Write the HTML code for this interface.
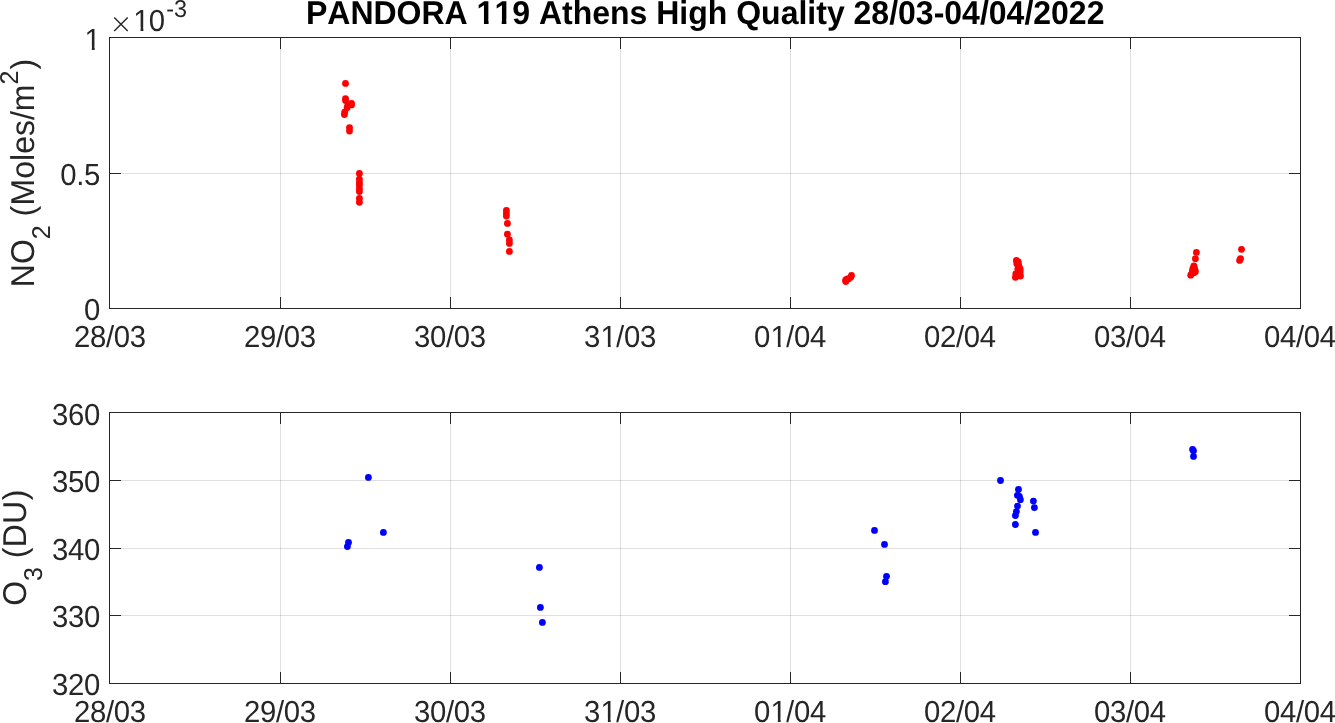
<!DOCTYPE html>
<html lang="en"><head><meta charset="utf-8"><title>PANDORA 119 Athens High Quality 28/03-04/04/2022</title>
<style>
html,body{margin:0;padding:0;background:#fff;}
body{width:1335px;height:723px;overflow:hidden;}
svg{display:block;}
text{font-kerning:none;text-rendering:geometricPrecision;font-family:"Liberation Sans",sans-serif;fill:#262626;white-space:pre;}
.tk{font-size:29.333px;letter-spacing:-0.31px;}
.ttl{font-size:32px;font-weight:bold;fill:#000;}
.lab{font-size:32px;}
.ss{font-size:25px;}
.ex{font-size:23.47px;}
.mul{font-family:"DejaVu Sans Light","DejaVu Sans","Liberation Sans",sans-serif;font-weight:200;font-size:28px;}
.ax{fill:#262626;shape-rendering:crispEdges;}
.gr{fill:#262626;fill-opacity:0.15;shape-rendering:crispEdges;}
</style></head><body>
<svg width="1335" height="723" viewBox="0 0 1335 723">
<rect x="0" y="0" width="1335" height="723" fill="#ffffff"/>
<defs><clipPath id="k0"><path clip-rule="evenodd" d="M-4 -35.2h79.85v46.93h-79.85zM17.34 -2.99h6.52v4.49h-6.52zM26.69 -2.99h5.59v4.49h-5.59z"/></clipPath><clipPath id="k1"><path clip-rule="evenodd" d="M-4 -35.2h79.85v46.93h-79.85zM17.34 -2.99h6.52v4.49h-6.52zM26.69 -2.99h5.59v4.49h-5.59z"/></clipPath><clipPath id="k2"><path clip-rule="evenodd" d="M-4 -35.2h24.6v46.93h-24.6zM1.33 -2.99h6.52v4.49h-6.52zM10.69 -2.99h5.59v4.49h-5.59z"/></clipPath><clipPath id="k3"><path clip-rule="evenodd" d="M-4 -38.4h806.53v51.2h-806.53zM171.19 -4.07h6.83v5.57h-6.83zM182.65 -4.07h5.73v5.57h-5.73zM188.98 -4.07h6.83v5.57h-6.83zM200.45 -4.07h5.73v5.57h-5.73z"/></clipPath><clipPath id="k4"><path clip-rule="evenodd" d="M-4 -35.2h40.01v46.93h-40.01zM1.33 -2.99h6.52v4.49h-6.52zM10.69 -2.99h5.59v4.49h-5.59z"/></clipPath></defs>
<path class="gr" d="M280 38h1v270h-1zM450 38h1v270h-1zM620 38h1v270h-1zM790 38h1v270h-1zM960 38h1v270h-1zM1130 38h1v270h-1z"/>
<path class="gr" d="M110 173h1190v1h-1190z"/>
<path class="ax" d="M280 37h1v12h-1zM280 297h1v12h-1zM450 37h1v12h-1zM450 297h1v12h-1zM620 37h1v12h-1zM620 297h1v12h-1zM790 37h1v12h-1zM790 297h1v12h-1zM960 37h1v12h-1zM960 297h1v12h-1zM1130 37h1v12h-1zM1130 297h1v12h-1zM109 173h12v1h-12zM1289 173h12v1h-12zM109 37h1192v1h-1192zM109 308h1192v1h-1192zM109 37h1v272h-1zM1300 37h1v272h-1z"/>
<text class="tk" transform="matrix(1 0 0 1.04 74 346.6)">28/03</text>
<text class="tk" transform="matrix(1 0 0 1.04 244 346.6)">29/03</text>
<text class="tk" transform="matrix(1 0 0 1.04 414 346.6)">30/03</text>
<text class="tk" transform="matrix(1 0 0 1.04 584 346.6)" dx="0 0.6 -0.6 0 0" clip-path="url(#k0)">31/03</text>
<text class="tk" transform="matrix(1 0 0 1.04 754 346.6)" dx="0 0.6 -0.6 0 0" clip-path="url(#k1)">01/04</text>
<text class="tk" transform="matrix(1 0 0 1.04 924 346.6)">02/04</text>
<text class="tk" transform="matrix(1 0 0 1.04 1094 346.6)">03/04</text>
<text class="tk" transform="matrix(1 0 0 1.04 1264 346.6)">04/04</text>
<text class="tk" transform="matrix(1 0 0 1.04 84 319.7)">0</text>
<text class="tk" transform="matrix(1 0 0 1.04 60.15 184.6)">0.5</text>
<text class="tk" transform="matrix(1 0 0 1.04 84 49.6)" dx="0.6" clip-path="url(#k2)">1</text>
<path class="gr" d="M280 413h1v270h-1zM450 413h1v270h-1zM620 413h1v270h-1zM790 413h1v270h-1zM960 413h1v270h-1zM1130 413h1v270h-1z"/>
<path class="gr" d="M110 615h1190v1h-1190zM110 548h1190v1h-1190zM110 480h1190v1h-1190z"/>
<path class="ax" d="M280 412h1v12h-1zM280 672h1v12h-1zM450 412h1v12h-1zM450 672h1v12h-1zM620 412h1v12h-1zM620 672h1v12h-1zM790 412h1v12h-1zM790 672h1v12h-1zM960 412h1v12h-1zM960 672h1v12h-1zM1130 412h1v12h-1zM1130 672h1v12h-1zM109 615h12v1h-12zM1289 615h12v1h-12zM109 548h12v1h-12zM1289 548h12v1h-12zM109 480h12v1h-12zM1289 480h12v1h-12zM109 412h1192v1h-1192zM109 683h1192v1h-1192zM109 412h1v272h-1zM1300 412h1v272h-1z"/>
<text class="tk" transform="matrix(1 0 0 1.04 74 721.6)">28/03</text>
<text class="tk" transform="matrix(1 0 0 1.04 244 721.6)">29/03</text>
<text class="tk" transform="matrix(1 0 0 1.04 414 721.6)">30/03</text>
<text class="tk" transform="matrix(1 0 0 1.04 584 721.6)" dx="0 0.6 -0.6 0 0" clip-path="url(#k0)">31/03</text>
<text class="tk" transform="matrix(1 0 0 1.04 754 721.6)" dx="0 0.6 -0.6 0 0" clip-path="url(#k1)">01/04</text>
<text class="tk" transform="matrix(1 0 0 1.04 924 721.6)">02/04</text>
<text class="tk" transform="matrix(1 0 0 1.04 1094 721.6)">03/04</text>
<text class="tk" transform="matrix(1 0 0 1.04 1264 721.6)">04/04</text>
<text class="tk" transform="matrix(1 0 0 1.04 51.99 694.6)">320</text>
<text class="tk" transform="matrix(1 0 0 1.04 51.99 626.8)">330</text>
<text class="tk" transform="matrix(1 0 0 1.04 51.99 559.6)">340</text>
<text class="tk" transform="matrix(1 0 0 1.04 51.99 491.8)">350</text>
<text class="tk" transform="matrix(1 0 0 1.04 51.99 424.7)">360</text>
<text class="ttl" transform="matrix(1 0 0 1.03 305.93 24)" clip-path="url(#k3)">PANDORA 119 Athens High Quality 28/03-04/04/2022</text>
<text class="mul" x="109.3" y="33.4">×</text>
<text class="tk" transform="matrix(1 0 0 1.04 132.7 30.7)" dx="0.6 -0.6" clip-path="url(#k4)">10</text>
<text class="ex" transform="matrix(1 0 0 1.04 166.2 17.3)">-3</text>
<text class="lab" transform="matrix(0 -1 1.03 0 34 287.2)">NO<tspan class="ss" dy="15.34">2</tspan><tspan dy="-15.34" dx="0.34 -0.5 0.5"> (Moles/m</tspan><tspan class="ss" dy="-15.53">2</tspan><tspan dy="15.53" dx="1">)</tspan></text>
<text class="lab" transform="matrix(0 -1 1.03 0 26 605.8)">O<tspan class="ss" dy="15.34">3</tspan><tspan dy="-15.34" dx="0.34 -0.5 0.5 0 0.7"> (DU)</tspan></text>
<g fill="#ff0000">
<circle cx="345.5" cy="83.4" r="3.4"/>
<circle cx="345.5" cy="98.6" r="3.4"/>
<circle cx="345.5" cy="100.5" r="3.4"/>
<circle cx="351.5" cy="103.4" r="3.4"/>
<circle cx="351.5" cy="104.9" r="3.4"/>
<circle cx="347.6" cy="105.8" r="3.4"/>
<circle cx="347.1" cy="107.8" r="3.4"/>
<circle cx="344.7" cy="112.1" r="3.4"/>
<circle cx="344.4" cy="114.6" r="3.4"/>
<circle cx="349.5" cy="127.6" r="3.4"/>
<circle cx="349.5" cy="131" r="3.4"/>
<circle cx="359.4" cy="173.4" r="3.4"/>
<circle cx="359.4" cy="179.1" r="3.4"/>
<circle cx="359.4" cy="182.4" r="3.4"/>
<circle cx="359.4" cy="184.9" r="3.4"/>
<circle cx="359.4" cy="188.7" r="3.4"/>
<circle cx="359.4" cy="191.6" r="3.4"/>
<circle cx="359.4" cy="198.4" r="3.4"/>
<circle cx="359.4" cy="202.3" r="3.4"/>
<circle cx="506.4" cy="210.5" r="3.4"/>
<circle cx="506.4" cy="213.4" r="3.4"/>
<circle cx="506.4" cy="216.1" r="3.4"/>
<circle cx="507.4" cy="223.4" r="3.4"/>
<circle cx="507.4" cy="234.2" r="3.4"/>
<circle cx="509.4" cy="240" r="3.4"/>
<circle cx="509.4" cy="243.4" r="3.4"/>
<circle cx="509.4" cy="251.4" r="3.4"/>
<circle cx="851.5" cy="275.4" r="3.4"/>
<circle cx="850.7" cy="277.3" r="3.4"/>
<circle cx="848.7" cy="278.7" r="3.4"/>
<circle cx="846.8" cy="279.2" r="3.4"/>
<circle cx="845.6" cy="280.2" r="3.4"/>
<circle cx="845.8" cy="281.5" r="3.4"/>
<circle cx="1016.4" cy="260.5" r="3.4"/>
<circle cx="1018.3" cy="261.8" r="3.4"/>
<circle cx="1016.8" cy="263.7" r="3.4"/>
<circle cx="1018.7" cy="265.2" r="3.4"/>
<circle cx="1019.2" cy="267.1" r="3.4"/>
<circle cx="1020.2" cy="269.1" r="3.4"/>
<circle cx="1017.8" cy="269.1" r="3.4"/>
<circle cx="1020.2" cy="272" r="3.4"/>
<circle cx="1015.8" cy="273.9" r="3.4"/>
<circle cx="1020.5" cy="276" r="3.4"/>
<circle cx="1015.4" cy="277.3" r="3.4"/>
<circle cx="1017.8" cy="275.8" r="3.4"/>
<circle cx="1196.4" cy="252.4" r="3.4"/>
<circle cx="1195.4" cy="258.7" r="3.4"/>
<circle cx="1193.9" cy="266" r="3.4"/>
<circle cx="1194.4" cy="267.9" r="3.4"/>
<circle cx="1192.9" cy="268.4" r="3.4"/>
<circle cx="1195.1" cy="270.4" r="3.4"/>
<circle cx="1192.4" cy="270.8" r="3.4"/>
<circle cx="1195.3" cy="271.8" r="3.4"/>
<circle cx="1192" cy="273.3" r="3.4"/>
<circle cx="1190.7" cy="275.2" r="3.4"/>
<circle cx="1193.9" cy="272.8" r="3.4"/>
<circle cx="1241.5" cy="249.3" r="3.4"/>
<circle cx="1240.5" cy="258.7" r="3.4"/>
<circle cx="1239.6" cy="260.4" r="3.4"/>
</g>
<g fill="#0000ff">
<circle cx="368.4" cy="477.4" r="3.4"/>
<circle cx="383.4" cy="532.4" r="3.4"/>
<circle cx="348.5" cy="542.4" r="3.4"/>
<circle cx="347.4" cy="546.6" r="3.4"/>
<circle cx="539.4" cy="567.4" r="3.4"/>
<circle cx="540.4" cy="607.4" r="3.4"/>
<circle cx="542.4" cy="622.4" r="3.4"/>
<circle cx="874.5" cy="530.4" r="3.4"/>
<circle cx="884.5" cy="544.4" r="3.4"/>
<circle cx="886.5" cy="576.3" r="3.4"/>
<circle cx="885.4" cy="581.7" r="3.4"/>
<circle cx="1000.5" cy="480.5" r="3.4"/>
<circle cx="1018.5" cy="489.5" r="3.4"/>
<circle cx="1017.4" cy="495.3" r="3.4"/>
<circle cx="1019.4" cy="496.3" r="3.4"/>
<circle cx="1020.4" cy="499.7" r="3.4"/>
<circle cx="1033.4" cy="501.1" r="3.4"/>
<circle cx="1017.5" cy="506.1" r="3.4"/>
<circle cx="1034.4" cy="507.6" r="3.4"/>
<circle cx="1016.4" cy="511.6" r="3.4"/>
<circle cx="1015.4" cy="515.6" r="3.4"/>
<circle cx="1015.4" cy="524.5" r="3.4"/>
<circle cx="1035.5" cy="532.4" r="3.4"/>
<circle cx="1192.6" cy="449.4" r="3.4"/>
<circle cx="1193.5" cy="450.8" r="3.4"/>
<circle cx="1193.5" cy="456.4" r="3.4"/>
</g>
</svg>
</body></html>
